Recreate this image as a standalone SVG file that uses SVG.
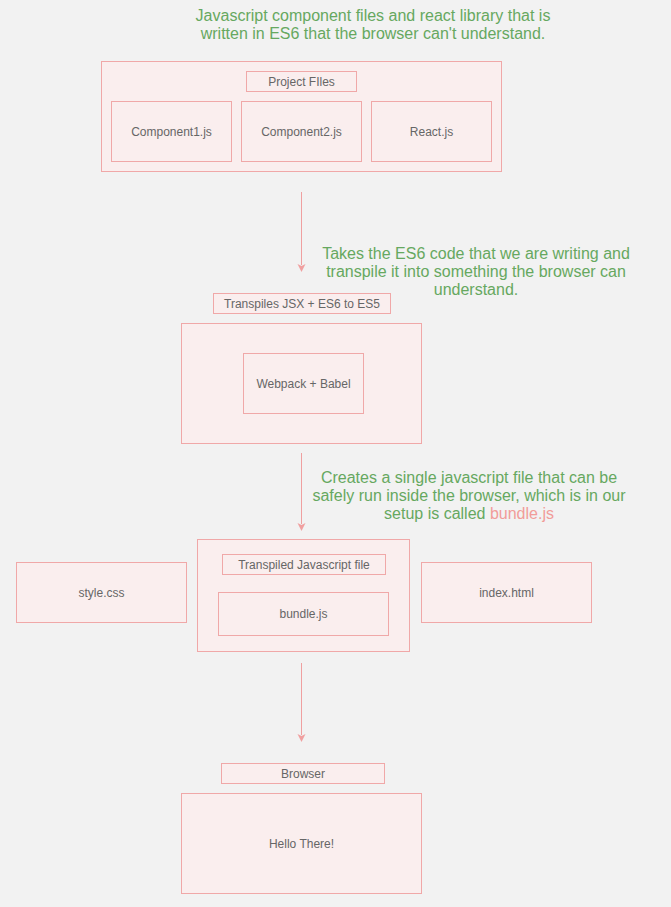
<svg xmlns="http://www.w3.org/2000/svg" width="671" height="907" viewBox="0 0 671 907">
<style>
.box{fill:#faeeee;stroke:#f0a8a8;stroke-width:1}
.t{font-family:"Liberation Sans",Arial,sans-serif;font-size:12px;fill:#666;text-anchor:middle;dominant-baseline:central}
.note{font-family:"Comic Sans MS","Liberation Sans",sans-serif;font-size:16px;fill:#66a860;text-anchor:middle}
.pink{fill:#f19c99}
.edge{stroke:#f0a0a0;stroke-width:1;fill:none}
.head{fill:#f0a0a0}
</style>
<rect width="671" height="907" fill="#f2f2f2"/>

<g id="note1">
<text class="note" x="373" y="21">Javascript component files and react library that is</text>
<text class="note" x="373" y="39">written in ES6 that the browser can't understand.</text>
</g>

<g id="project-files">
<rect class="box" x="101.5" y="61.5" width="400" height="110"/>
<rect class="box" x="246.5" y="71.5" width="110" height="20"/>
<text class="t" x="301.5" y="81.5">Project FIles</text>
</g>
<g id="component1">
<rect class="box" x="111.5" y="101.5" width="120" height="60"/>
<text class="t" x="171.5" y="131.5">Component1.js</text>
</g>
<g id="component2">
<rect class="box" x="241.5" y="101.5" width="120" height="60"/>
<text class="t" x="301.5" y="131.5">Component2.js</text>
</g>
<g id="react">
<rect class="box" x="371.5" y="101.5" width="120" height="60"/>
<text class="t" x="431.5" y="131.5">React.js</text>
</g>

<g id="note2">
<text class="note" x="476" y="259">Takes the ES6 code that we are writing and</text>
<text class="note" x="476" y="277">transpile it into something the browser can</text>
<text class="note" x="476" y="295">understand.</text>
</g>

<g id="transpiler">
<rect class="box" x="213.5" y="293.5" width="177" height="20"/>
<text class="t" x="302" y="303.5">Transpiles JSX + ES6 to ES5</text>
<rect class="box" x="181.5" y="323.5" width="240" height="120"/>
</g>
<g id="webpack">
<rect class="box" x="243.5" y="353.5" width="120" height="60"/>
<text class="t" x="303.5" y="383.5">Webpack + Babel</text>
</g>

<g id="note3">
<text class="note" x="469" y="483">Creates a single javascript file that can be</text>
<text class="note" x="469" y="501">safely run inside the browser, which is in our</text>
<text class="note" x="469" y="519">setup is called <tspan class="pink">bundle.js</tspan></text>
</g>

<g id="style-css">
<rect class="box" x="16.5" y="562.5" width="170" height="60"/>
<text class="t" x="101.5" y="592.5">style.css</text>
</g>
<g id="transpiled">
<rect class="box" x="197.5" y="539.5" width="212" height="112"/>
<rect class="box" x="222.5" y="554.5" width="163" height="20"/>
<text class="t" x="304" y="564.5">Transpiled Javascript file</text>
</g>
<g id="bundle">
<rect class="box" x="218.5" y="592.5" width="170" height="43"/>
<text class="t" x="303.5" y="614">bundle.js</text>
</g>
<g id="index-html">
<rect class="box" x="421.5" y="562.5" width="170" height="60"/>
<text class="t" x="506.5" y="592.5">index.html</text>
</g>

<g id="browser">
<rect class="box" x="221.5" y="763.5" width="163" height="20"/>
<text class="t" x="303" y="773.5">Browser</text>
<rect class="box" x="181.5" y="793.5" width="240" height="100"/>
<text class="t" x="301.5" y="843.5">Hello There!</text>
</g>

<g id="connectors">
<path class="edge" d="M301.5,192 V265"/>
<path class="head" d="M297.5,264 L301.5,266 L305.5,264 L301.5,272 Z"/>
<path class="edge" d="M301.5,453 V524"/>
<path class="head" d="M297.5,523 L301.5,525 L305.5,523 L301.5,531 Z"/>
<path class="edge" d="M301.5,663 V735"/>
<path class="head" d="M297.5,734 L301.5,736 L305.5,734 L301.5,742 Z"/>
</g>
</svg>
